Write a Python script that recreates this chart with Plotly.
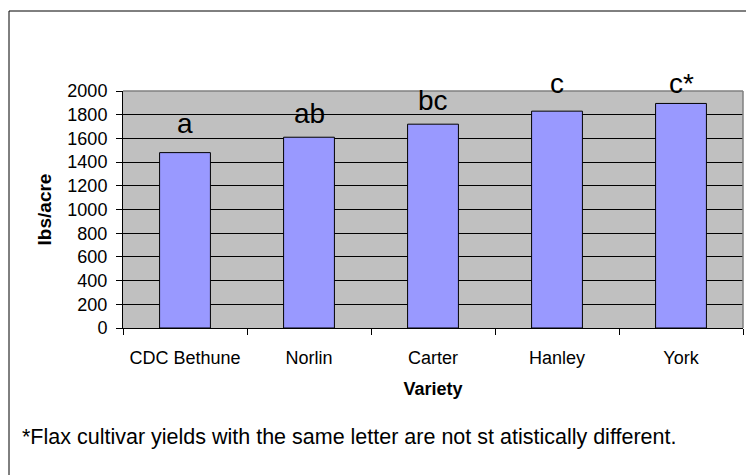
import plotly.graph_objects as go

# ---- data ----
varieties = ["CDC Bethune", "Norlin", "Carter", "Hanley", "York"]
yields = [1480, 1610, 1720, 1830, 1895]
letters = ["a", "ab", "bc", "c", "c*"]
y_ticks = [0, 200, 400, 600, 800, 1000, 1200, 1400, 1600, 1800, 2000]
footnote = "*Flax cultivar yields with the same letter are not st atistically different."

# ---- layout geometry (page pixels; page body has an 8px margin) ----
OFF = 8
W, H = 754 - OFF, 475 - OFF
PLOT_L, PLOT_R, PLOT_T, PLOT_B = 123, 743, 91, 328   # page coords
L = PLOT_L - OFF
R = 754 - PLOT_R
T = PLOT_T - OFF
B = 475 - PLOT_B
PW, PH = PLOT_R - PLOT_L, PLOT_B - PLOT_T

def px_x(px):
    return (px - PLOT_L) / PW

def px_y(py):
    return (PLOT_B - py) / PH

FONT = "Arial, 'Liberation Sans', sans-serif"

fig = go.Figure()
fig.add_trace(go.Bar(
    x=varieties, y=yields,
    marker=dict(color="#9999FF", line=dict(color="#000000", width=1)),
    width=0.41,
    hoverinfo="x+y",
))

# letter labels above bars (pixel lift above bar top)
label_lift = [12, 6, 6, 10, 2]
annotations = []
for v, val, lab, lift in zip(varieties, yields, letters, label_lift):
    annotations.append(dict(
        x=v, y=val, xref="x", yref="y", text=lab, showarrow=False,
        yanchor="bottom", yshift=lift,
        font=dict(family=FONT, size=28, color="#000000"),
    ))

annotations.append(dict(
    x=px_x(20), y=px_y(437), xref="paper", yref="paper", text=footnote,
    showarrow=False, xanchor="left", yanchor="middle",
    font=dict(family=FONT, size=21.5, color="#000000"),
))

shapes = [
    # outer chart border (right/bottom fall outside the view)
    dict(type="rect", xref="paper", yref="paper",
         x0=px_x(9), x1=px_x(790), y0=px_y(500), y1=px_y(11),
         line=dict(color="#000000", width=1), layer="below"),
    # plot area top and right border (grey)
    dict(type="line", xref="paper", yref="paper", x0=0, x1=1, y0=1, y1=1,
         line=dict(color="#808080", width=1.5), layer="above"),
    dict(type="line", xref="paper", yref="paper", x0=1, x1=1, y0=0, y1=1,
         line=dict(color="#808080", width=1.5), layer="above"),
]

fig.update_layout(
    width=W, height=H,
    margin=dict(l=L, r=R, t=T, b=B, pad=0),
    paper_bgcolor="#FFFFFF",
    plot_bgcolor="#C0C0C0",
    showlegend=False,
    font=dict(family=FONT, size=18, color="#000000"),
    annotations=annotations,
    shapes=shapes,
    xaxis=dict(
        type="category",
        showline=True, linecolor="#000000", linewidth=1,
        ticks="outside", ticklen=6, tickcolor="#000000", tickson="boundaries",
        showgrid=False,
        tickfont=dict(family=FONT, size=18, color="#000000"),
        ticklabelstandoff=13,
        title=dict(text="<b>Variety</b>", standoff=15,
                   font=dict(family=FONT, size=18, color="#000000")),
        range=[-0.5, 4.5],
    ),
    yaxis=dict(
        range=[0, 2000],
        tickvals=y_ticks,
        showline=True, linecolor="#000000", linewidth=1,
        ticks="outside", ticklen=6, tickcolor="#000000",
        showgrid=True, gridcolor="#000000", gridwidth=1,
        zeroline=False,
        tickfont=dict(family=FONT, size=18, color="#000000"),
        ticklabelstandoff=5,
        title=dict(text="<b>lbs/acre</b>", standoff=10,
                   font=dict(family=FONT, size=19, color="#000000")),
    ),
)

fig.write_html("out.html")
